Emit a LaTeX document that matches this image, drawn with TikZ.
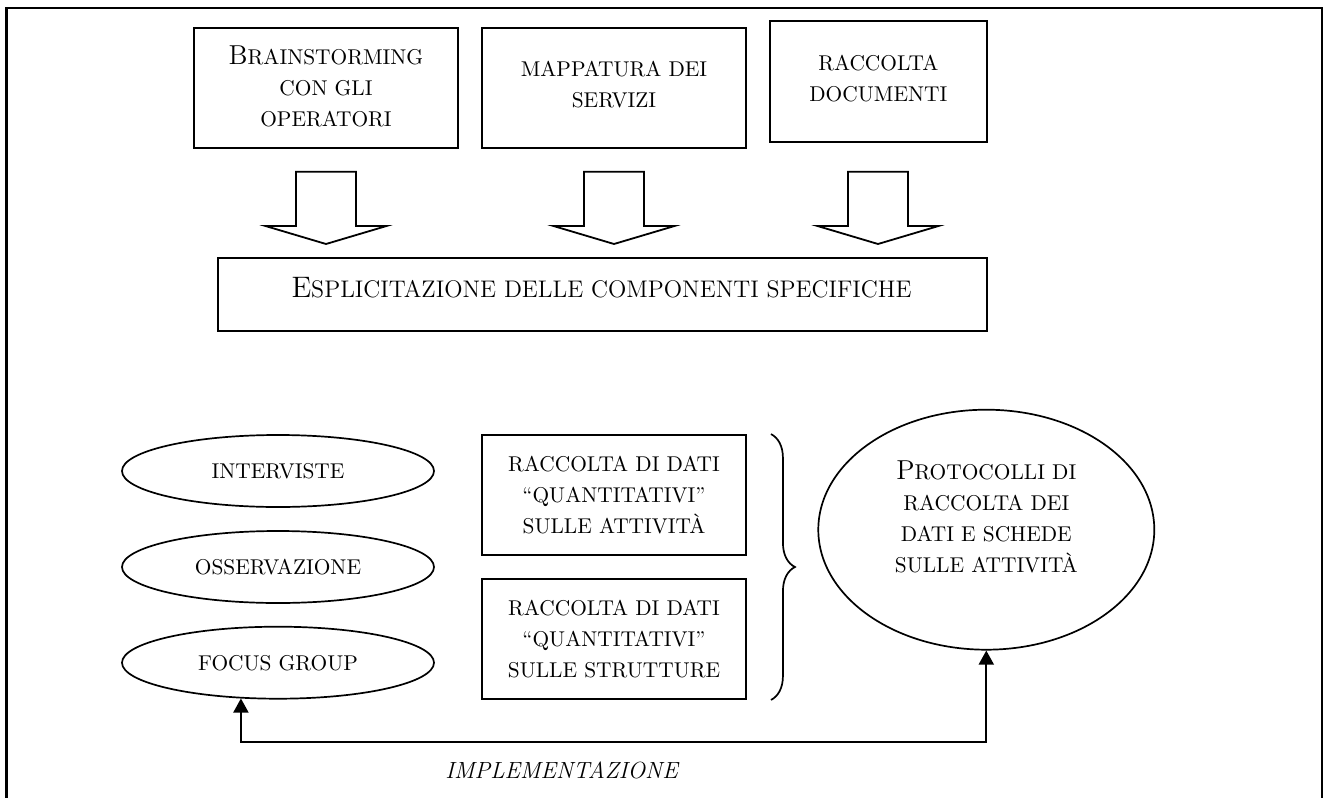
\documentclass[tikz,border=0pt]{standalone}
\usetikzlibrary{arrows.meta,decorations.pathreplacing,shapes.geometric}
\newcommand\Sm[1]{{\fontsize{10.7pt}{15.5pt}\selectfont\MakeUppercase{#1}}}
\newcommand\Bg[1]{{\fontsize{13.7pt}{15.5pt}\selectfont #1}}
\newcommand\SmB[1]{{\fontsize{12pt}{17pt}\selectfont\MakeUppercase{#1}}}
\newcommand\BgB[1]{{\fontsize{14.8pt}{17pt}\selectfont #1}}
\begin{document}
\begin{tikzpicture}[x=0.5pt,y=-0.5pt,
  >={Triangle[width=7.5pt,length=7pt]},
  frame/.style={draw, line width=1.4pt},
  box/.style={draw, line width=0.95pt, rectangle, inner sep=0pt},
  oval/.style={draw, line width=0.85pt, ellipse, inner sep=0pt},
  txt/.style={align=center, inner sep=0pt, anchor=base,
    font=\fontsize{13.5pt}{15.5pt}\selectfont},
  bigtxt/.style={align=center, inner sep=0pt, anchor=base,
    font=\fontsize{14.6pt}{17pt}\selectfont},
  impl/.style={inner sep=0pt, anchor=base west,
    font=\fontsize{11.7pt}{14pt}\selectfont\itshape},
  link/.style={draw, line width=0.9pt},
  curly/.style={draw, line width=0.85pt, decorate,
    decoration={brace, amplitude=12pt}},
  downarrow/.pic={\draw[line width=0.9pt, line join=miter]
    (-30,0) -- (-30,54.3) -- (-60.5,54.3) -- (0,72.3) -- (60.5,54.3)
    -- (30,54.3) -- (30,0) -- cycle;}
]
\useasboundingbox (0,0) rectangle (1324,798);
% outer frame (bottom edge lies outside the picture)
\draw[frame] (6.7,805) -- (6.7,8) -- (1322,8) -- (1322,805);

% top boxes (text nodes are anchored at the baseline of their last line)
\node[box, minimum width=132pt, minimum height=60pt] (b1) at (326,88) {};
\node[txt] (t1) at (326,126) {\Bg{B}\Sm{rainstorming}\\\Sm{con gli}\\\Sm{operatori}};
\node[box, minimum width=132pt, minimum height=60pt] (b2) at (614,88) {};
\node[txt] (t2) at (614,107) {\Sm{mappatura dei}\\\Sm{servizi}};
\node[box, minimum width=108.35pt, minimum height=60.2pt] (b3) at (878.35,81.5) {};
\node[txt] (t3) at (878.35,101) {\Sm{raccolta}\\\Sm{documenti}};

% block arrows
\pic at (326,171.7) {downarrow};
\pic at (614,171.7) {downarrow};
\pic at (878,171.7) {downarrow};

% big box
\node[box, minimum width=384.5pt, minimum height=36.65pt] (big) at (602.2,294.35) {};
\node[bigtxt] (tbig) at (601.5,297) {\BgB{E}\SmB{splicitazione delle componenti specifiche}};

% ellipses
\node[oval, minimum width=156pt, minimum height=36pt] (int) at (278,471) {};
\node[txt] (tint) at (278,478) {\Sm{interviste}};
\node[oval, minimum width=156pt, minimum height=36pt] (oss) at (278,567) {};
\node[txt] (toss) at (278,574) {\Sm{osservazione}};
\node[oval, minimum width=156pt, minimum height=36pt] (fg) at (278,662.7) {};
\node[txt] (tfg) at (278,670) {\Sm{focus group}};

% data boxes
\node[box, minimum width=132pt, minimum height=60pt] (b4) at (614,495) {};
\node[txt] (t4) at (614,533) {\Sm{raccolta di dati}\\\Sm{“quantitativi”}\\\Sm{sulle attività}};
\node[box, minimum width=132pt, minimum height=60pt] (b5) at (614,639) {};
\node[txt] (t5) at (614,677) {\Sm{raccolta di dati}\\\Sm{“quantitativi”}\\\Sm{sulle strutture}};

% brace
\draw[curly] ([xshift=12pt]b4.north east) -- ([xshift=12pt]b5.south east);

% protocol ellipse
\node[oval, minimum width=168pt, minimum height=120pt] (prot) at (986.3,529.7) {};
\node[txt] (tprot) at (986.3,572) {\Bg{P}\Sm{rotocolli di}\\\Sm{raccolta dei}\\\Sm{dati e schede}\\\Sm{sulle attività}};

% feedback connector
\coordinate (low) at (0,742.3);
\draw[link, <->] (fg.224) -- (fg.224 |- low) -- (prot.south |- low) -- (prot.south);
\node[impl] (limpl) at (445,778.3) {IMPLEMENTAZIONE};
\end{tikzpicture}
\end{document}
